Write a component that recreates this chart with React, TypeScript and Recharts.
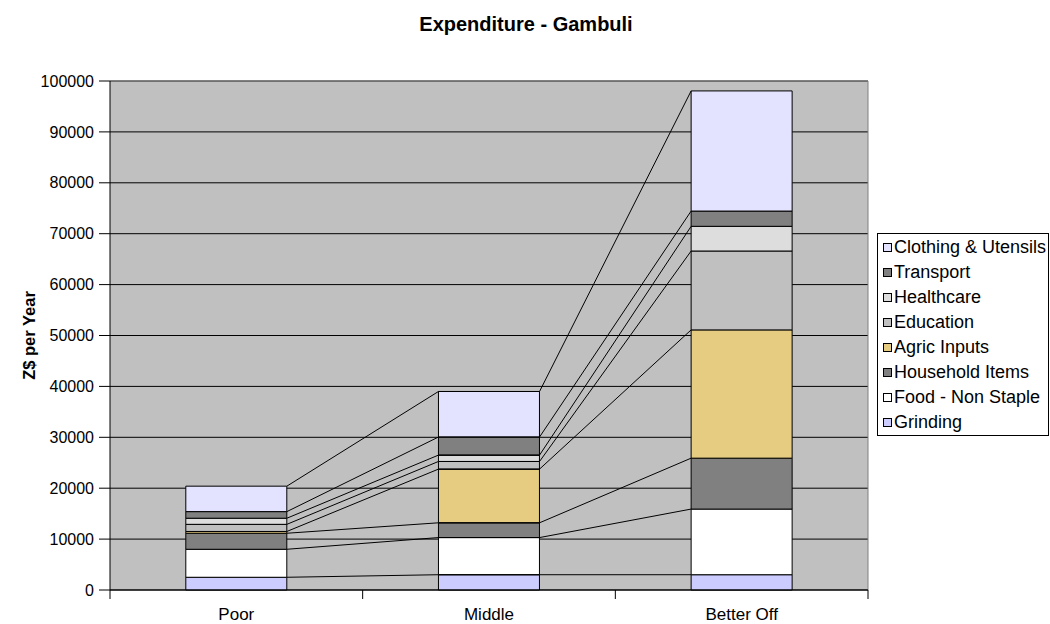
import React from 'react';
import { ComposedChart, Bar, Line, XAxis, YAxis, CartesianGrid, Label } from 'recharts';

// Household groups along the x axis
const groups = ['Poor', 'Middle', 'Better Off'];

// Annual expenditure per item (Z$ per year), bottom of the stack first
const grinding = [2500, 3000, 3000];
const foodNonStaple = [5500, 7300, 12900];
const householdItems = [3150, 2900, 10000];
const agricInputs = [350, 10550, 25200];
const education = [1400, 1500, 15500];
const healthcare = [1200, 1250, 4850];
const transport = [1300, 3550, 3000];
const clothingUtensils = [5000, 8950, 23600];

const yTicks = [0, 10000, 20000, 30000, 40000, 50000, 60000, 70000, 80000, 90000, 100000];

const FONT = '"Liberation Sans", Arial, Helvetica, sans-serif';
const W = 1050;
const H = 624;
// share of each category band left empty on either side of a bar
const GAP = 0.3;

const series = [
  { key: 'grinding', name: 'Grinding', values: grinding, fill: '#CCCCFF' },
  { key: 'foodNonStaple', name: 'Food - Non Staple', values: foodNonStaple, fill: '#FFFFFF' },
  { key: 'householdItems', name: 'Household Items', values: householdItems, fill: '#808080' },
  { key: 'agricInputs', name: 'Agric Inputs', values: agricInputs, fill: '#E6CC80' },
  { key: 'education', name: 'Education', values: education, fill: '#C0C0C0' },
  { key: 'healthcare', name: 'Healthcare', values: healthcare, fill: '#DDDDDD' },
  { key: 'transport', name: 'Transport', values: transport, fill: '#808080' },
  { key: 'clothingUtensils', name: 'Clothing & Utensils', values: clothingUtensils, fill: '#E3E3FF' },
];

const rows = groups.map((group, i) => {
  const row: Record<string, string | number> = { group };
  series.forEach((s) => {
    row[s.key] = s.values[i];
  });
  return row;
});

// Series lines: join the top of each stacked segment from one bar's right edge
// to the next bar's left edge.
const seriesLines = series.map((s, k) => {
  const tops = groups.map((_, i) =>
    series.slice(0, k + 1).reduce((sum, t) => sum + t.values[i], 0)
  );
  const pts: { x: number; v: number }[] = [];
  for (let i = 0; i < groups.length - 1; i++) {
    pts.push({ x: i + 1 - GAP, v: tops[i] });
    pts.push({ x: i + 1 + GAP, v: tops[i + 1] });
  }
  return { key: s.key, pts };
});

const edgeTicks: number[] = [];
for (let i = 0; i <= groups.length; i++) {
  edgeTicks.push(i);
  if (i < groups.length) edgeTicks.push(i + 0.5);
}

// Category axis: tick marks at the band edges, names at the band centres
const EdgeTick = (props: any) => {
  const { x, y, payload } = props;
  const v = payload.value as number;
  if (Number.isInteger(v)) {
    return <line x1={x} x2={x} y1={y} y2={y + 9} stroke="#000" strokeWidth={1} />;
  }
  return (
    <text x={x} y={y + 30} textAnchor="middle" fontFamily={FONT} fontSize={17} fill="#000">
      {groups[Math.floor(v)]}
    </text>
  );
};

const YTitle = (props: any) => {
  const vb = props.viewBox;
  const cx = vb.x + 29;
  const cy = vb.y + vb.height / 2;
  return (
    <text
      x={cx}
      y={cy}
      transform={`rotate(-90 ${cx} ${cy})`}
      textAnchor="middle"
      dominantBaseline="central"
      fontFamily={FONT}
      fontSize={16.5}
      fontWeight="bold"
      fill="#000"
    >
      Z$ per Year
    </text>
  );
};

const legendItems = [...series].reverse();

export default function App() {
  return (
    <div style={{ position: 'absolute', left: 0, top: 0, width: W, height: H, background: '#FFFFFF' }}>
      <svg width={W} height={40} style={{ position: 'absolute', left: 0, top: 0 }}>
        <text x={526} y={31} textAnchor="middle" fontFamily={FONT} fontSize={20} fontWeight="bold" fill="#000">
          Expenditure - Gambuli
        </text>
      </svg>
      <div style={{ position: 'absolute', left: 0, top: 0 }}>
        <ComposedChart
          width={W}
          height={H}
          data={rows}
          barCategoryGap={`${GAP * 100}%`}
          margin={{ top: 81, right: 182, bottom: 0, left: 0 }}
        >
          <CartesianGrid fill="#C0C0C0" stroke="#000" vertical={false} />
          <CartesianGrid
            fill="none"
            stroke="#808080"
            horizontalCoordinatesGenerator={({ offset }: any) => [offset.top]}
            verticalCoordinatesGenerator={({ offset }: any) => [offset.left + offset.width]}
          />
          <XAxis xAxisId="cat" dataKey="group" type="category" height={0} hide />
          <XAxis
            xAxisId="num"
            dataKey="x"
            type="number"
            domain={[0, groups.length]}
            allowDataOverflow
            ticks={edgeTicks}
            interval={0}
            height={34}
            tickSize={0}
            tickMargin={0}
            tickLine={false}
            axisLine={{ stroke: '#000' }}
            tick={<EdgeTick />}
          />
          <YAxis
            domain={[0, 100000]}
            ticks={yTicks}
            interval={0}
            width={110}
            tickSize={11}
            tickMargin={5}
            axisLine={{ stroke: '#000' }}
            tickLine={{ stroke: '#000' }}
            tick={{ fill: '#000', fontSize: 16, fontFamily: FONT }}
          >
            <Label content={<YTitle />} />
          </YAxis>
          {series.map((s) => (
            <Bar
              key={s.key}
              xAxisId="cat"
              dataKey={s.key}
              name={s.name}
              stackId="spend"
              fill={s.fill}
              stroke="#000"
              strokeWidth={1}
              isAnimationActive={false}
            />
          ))}
          {seriesLines.map((l) => (
            <Line
              key={`line-${l.key}`}
              xAxisId="num"
              data={l.pts}
              dataKey="v"
              type="linear"
              stroke="#000"
              strokeWidth={1}
              dot={false}
              activeDot={false}
              legendType="none"
              isAnimationActive={false}
            />
          ))}
        </ComposedChart>
      </div>
      <div
        style={{
          position: 'absolute',
          left: 877,
          top: 233,
          width: 172,
          height: 203,
          border: '1px solid #000',
          background: '#FFFFFF',
          boxSizing: 'border-box',
          paddingTop: 1,
          fontFamily: FONT,
          fontSize: 18,
          color: '#000',
        }}
      >
        {legendItems.map((s) => (
          <div key={s.key} style={{ display: 'flex', alignItems: 'center', height: 25, whiteSpace: 'nowrap' }}>
            <span
              style={{
                display: 'inline-block',
                boxSizing: 'border-box',
                width: 9,
                height: 9,
                marginLeft: 5,
                marginRight: 2,
                border: '1px solid #000',
                background: s.fill,
              }}
            />
            <span>{s.name}</span>
          </div>
        ))}
      </div>
    </div>
  );
}
